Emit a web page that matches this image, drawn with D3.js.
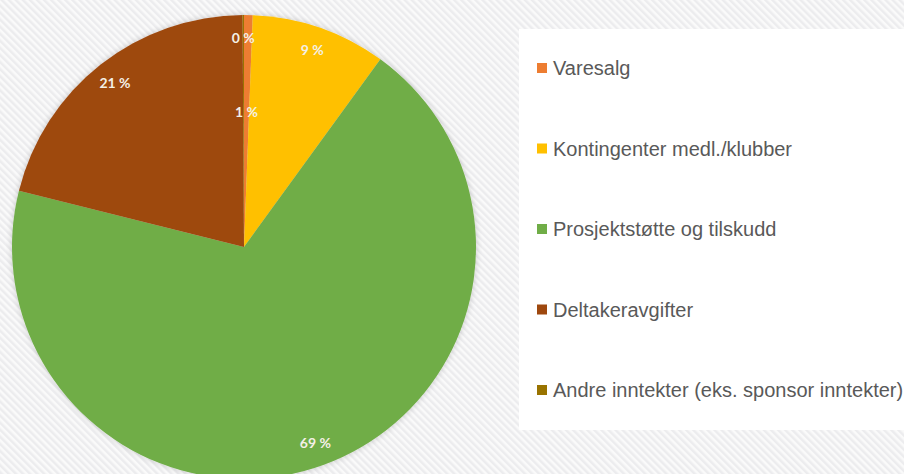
<!DOCTYPE html>
<html>
<head>
<meta charset="utf-8">
<script src="https://cdn.jsdelivr.net/npm/d3@7"></script>
<style>
  body { margin: 0; background: #fff; }
  svg { display: block; }
</style>
</head>
<body>
<div id="chart"></div>
<script>
const categories = ['Varesalg', 'Kontingenter medl./klubber', 'Prosjektstøtte og tilskudd', 'Deltakeravgifter', 'Andre inntekter (eks. sponsor inntekter)'];
const values = [0.6, 9.4, 68.9, 21.0, 0.1];
const colors = ['#ED7D31', '#FFC000', '#70AD47', '#9E480E', '#997300'];

const W = 904, H = 474;
const R = 232;
const CX = 244, CY = 247;

const svg = d3.select('#chart')
    .append('svg')
    .attr('width', W)
    .attr('height', H);

const defs = svg.append('defs');

// light diagonal stripes in the background ( \\\ direction )
const pat = defs.append('pattern')
    .attr('id', 'stripes')
    .attr('patternUnits', 'userSpaceOnUse')
    .attr('width', 5)
    .attr('height', 5)
    .attr('patternTransform', 'rotate(-45)');
pat.append('rect').attr('width', 5).attr('height', 5).attr('fill', '#fafafa');
pat.append('rect').attr('width', 2.5).attr('height', 5).attr('fill', '#ececee');

const shadow = defs.append('filter')
    .attr('id', 'shadow')
    .attr('x', '-10%').attr('y', '-10%')
    .attr('width', '120%').attr('height', '120%');
shadow.append('feGaussianBlur').attr('in', 'SourceAlpha').attr('stdDeviation', 3);
shadow.append('feComponentTransfer').append('feFuncA').attr('type', 'linear').attr('slope', 0.2);
const merge = shadow.append('feMerge');
merge.append('feMergeNode');
merge.append('feMergeNode').attr('in', 'SourceGraphic');

svg.append('rect')
    .attr('width', W)
    .attr('height', H)
    .attr('fill', 'url(#stripes)');

// legend panel
svg.append('rect')
    .attr('x', 519)
    .attr('y', 29)
    .attr('width', W - 519)
    .attr('height', 401)
    .attr('fill', '#ffffff');

const pie = d3.pie().sort(null).value(d => d);
const arcs = pie(values);

const arc = d3.arc().innerRadius(0).outerRadius(R);

const g = svg.append('g')
    .attr('transform', `translate(${CX},${CY})`);

g.append('g')
    .attr('filter', 'url(#shadow)')
    .selectAll('path')
    .data(arcs)
    .enter().append('path')
    .attr('d', arc)
    .attr('fill', (d, i) => colors[i]);

// labels sit near the rim, except the tiny Varesalg one that Excel pulls inward
const labelRadius = [0.58, 0.9, 0.9, 0.9, 0.9];

g.selectAll('text.lbl')
    .data(arcs)
    .enter().append('text')
    .attr('class', 'lbl')
    .attr('transform', (d, i) => {
        const r = R * labelRadius[i];
        return `translate(${d3.arc().innerRadius(r).outerRadius(r).centroid(d)})`;
    })
    .attr('text-anchor', 'middle')
    .attr('dy', '0.35em')
    .attr('fill', '#f4f0e6')
    .style('font-family', 'Lato, "Open Sans", sans-serif')
    .style('font-weight', 'bold')
    .style('font-size', '14px')
    .text(d => Math.round(d.data) + ' %');

// legend
const legendY = d3.scalePoint()
    .domain(categories)
    .range([68, 390]);

const legend = svg.append('g')
    .selectAll('g')
    .data(categories)
    .enter().append('g')
    .attr('transform', d => `translate(537,${legendY(d)})`);

legend.append('rect')
    .attr('x', 0)
    .attr('y', -5)
    .attr('width', 10)
    .attr('height', 10)
    .attr('fill', (d, i) => colors[i]);

legend.append('text')
    .attr('x', 16)
    .attr('dy', '0.36em')
    .attr('fill', '#595959')
    .style('font-family', '"Liberation Sans", Arial, sans-serif')
    .style('font-size', '20px')
    .text(d => d);
</script>
</body>
</html>
